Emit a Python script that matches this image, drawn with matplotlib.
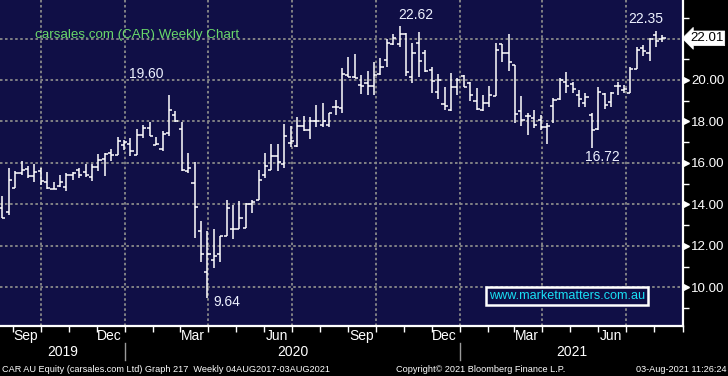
import matplotlib
matplotlib.use('Agg')
import matplotlib.pyplot as plt
import matplotlib.dates as mdates
import matplotlib.transforms as mtransforms
from matplotlib.ticker import FixedLocator, NullFormatter
import pandas as pd
import numpy as np

# ---------------- data (weekly OHLC) ----------------
start_date = '2019-08-20'
n_weeks = 104
opens = [13.83, 13.64, 14.79, 15.51, 15.72, 15.35, 15.59, 15.10, 14.74, 14.90,
         14.86, 15.43, 15.67, 15.55, 15.31, 15.80, 16.21, 16.48, 16.40, 16.88,
         16.90, 16.36, 17.36, 17.68, 16.88, 16.67, 17.45, 18.32, 17.63, 15.60,
         15.03, 12.71, 10.75, 11.31, 11.59, 12.47, 12.79, 12.82, 12.87, 14.04,
         14.23, 15.43, 15.67, 16.35, 15.95, 16.96, 16.83, 17.80, 17.60, 18.00,
         17.84, 17.84, 18.69, 18.64, 20.24, 20.16, 19.76, 19.87, 19.71, 20.29,
         20.96, 21.73, 21.76, 22.20, 20.16, 21.80, 21.32, 20.50, 19.44, 18.85,
         18.56, 19.65, 20.19, 19.84, 19.00, 18.56, 18.91, 19.23, 21.73, 21.28,
         20.72, 18.52, 18.24, 18.16, 18.08, 17.72, 18.75, 19.07, 19.92, 19.81,
         19.28, 18.91, 18.32, 17.63, 19.33, 18.96, 19.71, 19.52, 19.39, 20.51,
         21.52, 21.28, 22.16, 21.96]
highs = [14.42, 15.74, 15.63, 16.10, 15.87, 15.95, 15.75, 15.56, 15.08, 15.43,
         15.51, 15.55, 15.75, 15.95, 15.95, 16.44, 16.48, 16.67, 17.25, 17.12,
         17.20, 17.63, 17.84, 17.95, 17.25, 17.52, 19.28, 18.48, 17.95, 16.50,
         16.03, 13.19, 12.71, 12.79, 12.47, 14.23, 13.99, 14.15, 14.07, 14.23,
         15.67, 16.48, 16.92, 16.92, 17.88, 17.76, 18.20, 18.27, 18.20, 18.80,
         18.91, 18.43, 19.04, 20.56, 21.12, 21.25, 20.24, 20.45, 20.88, 21.04,
         21.96, 22.21, 22.62, 22.28, 21.80, 22.32, 21.47, 20.64, 20.29, 19.65,
         20.32, 20.08, 20.24, 19.92, 19.60, 19.28, 19.71, 21.80, 21.76, 22.24,
         20.72, 19.23, 18.43, 18.56, 18.32, 17.92, 19.12, 20.08, 20.40, 19.92,
         19.52, 19.39, 18.43, 19.68, 19.36, 19.44, 19.92, 19.76, 20.64, 21.60,
         21.68, 22.05, 22.35, 22.16]
lows = [13.35, 13.48, 14.79, 15.43, 15.27, 15.06, 14.95, 14.74, 14.74, 14.84,
        14.63, 15.16, 15.27, 15.30, 15.11, 15.59, 15.35, 16.07, 16.40, 16.63,
        16.31, 16.36, 17.20, 17.28, 16.88, 16.59, 17.28, 17.95, 15.59, 15.51,
        12.39, 11.22, 9.50, 10.95, 11.22, 12.47, 12.34, 12.79, 12.87, 13.59,
        14.23, 15.27, 15.67, 15.59, 15.75, 16.79, 16.79, 17.52, 17.15, 17.72,
        17.72, 17.71, 18.32, 18.43, 20.13, 20.08, 19.33, 19.28, 19.28, 20.24,
        20.64, 21.68, 21.60, 20.19, 19.84, 20.16, 20.40, 19.39, 19.07, 18.56,
        18.48, 19.28, 19.65, 19.00, 18.56, 18.52, 18.69, 19.23, 20.88, 20.45,
        17.92, 17.79, 17.36, 17.68, 17.60, 16.92, 17.92, 19.04, 19.36, 19.39,
        18.69, 18.72, 16.72, 17.60, 18.59, 18.69, 19.28, 19.39, 19.39, 20.51,
        21.15, 20.93, 21.60, 21.84]
closes = [13.35, 15.18, 15.51, 15.67, 15.35, 15.55, 15.14, 14.79, 14.76, 15.08,
          15.43, 15.51, 15.43, 15.43, 15.80, 16.12, 16.44, 16.40, 17.04, 16.99,
          16.59, 17.36, 17.68, 17.31, 16.90, 17.40, 18.56, 18.00, 15.67, 15.75,
          13.88, 11.59, 11.59, 11.50, 12.47, 13.83, 12.82, 13.35, 14.04, 14.13,
          15.19, 15.87, 16.31, 16.03, 17.28, 17.04, 17.80, 17.60, 18.00, 18.00,
          18.04, 18.43, 18.69, 20.29, 20.16, 20.10, 19.71, 19.71, 20.24, 20.64,
          21.80, 22.05, 22.21, 20.40, 21.32, 20.93, 20.45, 19.97, 20.00, 18.75,
          19.65, 20.00, 19.68, 19.28, 18.59, 18.91, 19.28, 21.44, 21.28, 20.88,
          18.35, 18.08, 18.27, 17.84, 17.72, 17.76, 19.04, 20.00, 19.71, 19.55,
          19.07, 19.17, 17.60, 19.44, 18.80, 19.39, 19.71, 19.55, 20.51, 21.47,
          21.41, 22.00, 21.89, 22.01]
y_ticks = [10, 12, 14, 16, 18, 20]
y_grid = [10, 12, 14, 16, 18, 20, 22]
y_minor = [9, 11, 13, 15, 17, 19, 21, 23]
last_price = 22.01
labels_hilo = [(26, 'high', '19.60', -23, 21), (32, 'low', '9.64', 19, -4),
               (62, 'high', '22.62', 16, 11), (102, 'high', '22.35', -10, 12),
               (92, 'low', '16.72', 10, -9)]
years = ['2019', '2020', '2021']

# ---------------- figure ----------------
W, H = 728, 376
fig = plt.figure(figsize=(W / 100, H / 100), dpi=100, facecolor='black')
ax_l, ax_r, ax_t, ax_b = 0, 683, 0, 326
ax = fig.add_axes([ax_l / W, (H - ax_b) / H, (ax_r - ax_l) / W, (ax_b - ax_t) / H])
navy = '#100f46'
ax.set_facecolor(navy)
font = 'Liberation Sans'

dates = pd.date_range(start_date, periods=n_weeks, freq='7D')
x = mdates.date2num(dates)
px_per_day = 0.9155
jan20 = mdates.date2num(pd.Timestamp('2020-01-01'))
jan21 = mdates.date2num(pd.Timestamp('2021-01-01'))
xmin = jan20 - 125 / px_per_day
xmax = xmin + (ax_r - ax_l) / px_per_day
ax.set_xlim(xmin, xmax)
ax.set_ylim(8.13, 23.86)

# grid
for g in y_grid:
    ax.axhline(g, color='#8a8a8a', lw=1.3, ls=(0, (1.4, 1.4)), zorder=1)
for q in pd.date_range('2019-10-01', '2021-07-01', freq='QS'):
    ax.axvline(mdates.date2num(q), color='#8a8a8a', lw=1.3, ls=(0, (1.4, 1.4)), zorder=1)

# OHLC bars
tick = 3.4
ax.vlines(x, lows, highs, color='white', lw=1.1, zorder=3)
ax.hlines(opens, x - tick, x, color='white', lw=1.1, zorder=3)
ax.hlines(closes, x, x + tick, color='white', lw=1.1, zorder=3)

# spines
for s in ['top', 'left']:
    ax.spines[s].set_visible(False)
for s in ['bottom', 'right']:
    ax.spines[s].set_color('white')
    ax.spines[s].set_linewidth(1.6)

# y axis on right
ax.yaxis.tick_right()
ax.set_yticks(y_ticks)
ax.set_yticklabels([f'{v:.2f}' for v in y_ticks])
ax.yaxis.set_minor_locator(FixedLocator(y_minor))
ax.tick_params(axis='y', which='major', length=0, pad=6, labelsize=9.6,
               labelcolor='white')
ax.tick_params(axis='y', which='minor', length=4, width=1, color='white', direction='out')
for lab in ax.get_yticklabels():
    lab.set_fontfamily(font)
ytrans = mtransforms.blended_transform_factory(ax.transAxes, ax.transData)
ax.plot([1.0 + 3 / 683] * len(y_ticks), y_ticks, marker='>', ms=4.5, color='white', ls='none',
        transform=ytrans, clip_on=False, zorder=5)

# last price box
ax.text(1.0 + 7 / 683, last_price, f'{last_price:.2f}', transform=ytrans, ha='left',
        va='center', fontsize=9.6, family=font, color='black',
        bbox=dict(boxstyle='larrow,pad=0.1', fc='white', ec='white', lw=0.5))

# x axis
ax.xaxis.set_major_locator(mdates.MonthLocator())
ax.xaxis.set_major_formatter(NullFormatter())
ax.xaxis.set_minor_locator(mdates.MonthLocator(bymonth=[3, 6, 9, 12], bymonthday=15))
ax.xaxis.set_minor_formatter(mdates.DateFormatter('%b'))
ax.tick_params(axis='x', which='major', length=4, width=1, color='white', direction='out')
ax.tick_params(axis='x', which='minor', length=0, pad=2, labelsize=10, labelcolor='white')
for lab in ax.get_xticklabels(minor=True):
    lab.set_fontfamily(font)

xtrans = mtransforms.blended_transform_factory(ax.transData, ax.transAxes)
year_centers = [(xmin + jan20) / 2, (jan20 + jan21) / 2, (jan21 + xmax) / 2]
for yc, yl in zip(year_centers, years):
    ax.text(yc, -26 / 326, yl, transform=xtrans, ha='center', va='center',
            fontsize=10, family=font, color='white')
for sep in [jan20, jan21]:
    ax.plot([sep, sep], [-17 / 326, -34 / 326], color='#9a9a9a', lw=1,
            transform=xtrans, clip_on=False)

# title
ax.text(35 / 683, 1 - 35 / 326, 'carsales.com (CAR) Weekly Chart', transform=ax.transAxes,
        ha='left', va='center', fontsize=9.6, family=font, color='#6ad96a')

# high/low labels
for idx, kind, txt, dx, dy in labels_hilo:
    yv = highs[idx] if kind == 'high' else lows[idx]
    ax.annotate(txt, xy=(x[idx], yv), xytext=(dx, dy), textcoords='offset pixels',
                ha='center', va='center', fontsize=10, family=font, color='#eef2ff')

# website box
ax.text(567 / 683, 1 - 296 / 326, 'www.marketmatters.com.au', transform=ax.transAxes,
        ha='center', va='center', fontsize=9.1, family=font, color='#19e0f5',
        bbox=dict(boxstyle='square,pad=0.2', fc=navy, ec='white', lw=1.8))

# footer
fy = (H - 369) / H
fig.text(2 / W, fy, 'CAR AU Equity (carsales.com Ltd) Graph 217  Weekly 04AUG2017-03AUG2021',
         ha='left', va='center', fontsize=6.6, family=font, color='white')
fig.text(481 / W, fy, 'Copyright\u00a9 2021 Bloomberg Finance L.P.', ha='center', va='center',
         fontsize=6.6, family=font, color='white')
fig.text(726 / W, fy, '03-Aug-2021 11:26:24', ha='right', va='center', fontsize=6.6,
         family=font, color='white')

fig.savefig('out.png', dpi=100, facecolor='black')
